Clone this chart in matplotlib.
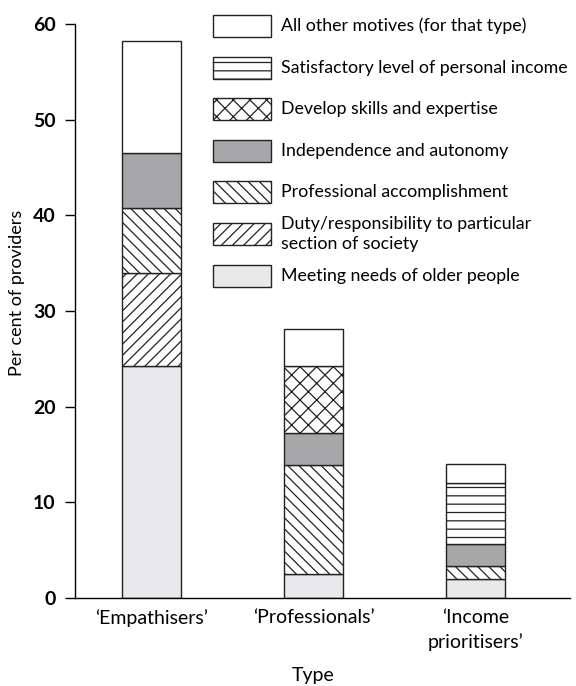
import matplotlib
matplotlib.use("Agg")
import matplotlib.pyplot as plt
from matplotlib.patches import Rectangle
import numpy as np

plt.rcParams['font.family'] = ['Lato', 'DejaVu Sans']
plt.rcParams['hatch.linewidth'] = 0.9

categories = ["\u2018Empathisers\u2019", "\u2018Professionals\u2019", "\u2018Income\nprioritisers\u2019"]

meeting_needs = [24.2, 2.5, 2.0]
duty = [9.8, 0.0, 0.0]
prof_accomp = [6.8, 11.4, 1.3]
independence = [5.7, 3.3, 2.3]
skills = [0.0, 7.0, 0.0]
income = [0.0, 0.0, 6.4]
other = [11.7, 3.9, 2.0]

series = [
    ("Meeting needs of older people", meeting_needs, "#e9e9eb", ""),
    ("Duty/responsibility to particular\nsection of society", duty, "white", "///"),
    ("Professional accomplishment", prof_accomp, "white", "\\\\\\"),
    ("Independence and autonomy", independence, "#a7a7a9", ""),
    ("Develop skills and expertise", skills, "white", "xx"),
    ("Satisfactory level of personal income", income, "white", "--"),
    ("All other motives (for that type)", other, "white", ""),
]

fig = plt.figure(figsize=(5.76, 6.86), dpi=100)
ax = fig.add_axes([75/576, 1-598/686, (570-75)/576, (598-24)/686])

x = np.arange(len(categories))
bottom = np.zeros(len(categories))
for label, vals, fc, hatch in series:
    vals = np.array(vals)
    mask = vals > 0
    ax.bar(x[mask], vals[mask], bottom=bottom[mask], width=0.364,
           color=fc, edgecolor="#222222", hatch=hatch, linewidth=1.0)
    bottom += vals

ax.set_xlim(-0.472, 2.583)
ax.set_ylim(0, 60)
ax.set_yticks([0, 10, 20, 30, 40, 50, 60])
ax.set_yticklabels([str(v) for v in [0, 10, 20, 30, 40, 50, 60]], fontsize=14, fontweight='bold')
ax.set_xticks(x)
ax.set_xticklabels(categories, fontsize=14, linespacing=1.45)
ax.tick_params(axis='x', length=0, pad=8)
ax.tick_params(axis='y', length=7, width=1, pad=7)
for s in ['top', 'right']:
    ax.spines[s].set_visible(False)
ax.spines['left'].set_linewidth(1.0)
ax.spines['bottom'].set_linewidth(1.0)
ax.set_xlabel("Type", fontsize=14)
ax.xaxis.set_label_coords((313-75)/495, (598-667)/574)
ax.set_ylabel("Per cent of providers", fontsize=13)
ax.yaxis.set_label_coords((25-75)/495, (598-293)/574)

# legend drawn manually (top to bottom)
leg_items = list(reversed(series))
centers = [26, 68, 109, 151, 192, 234, 275.5]
for (label, vals, fc, hatch), cy in zip(leg_items, centers):
    r = Rectangle((213/576, 1-(cy+11)/686), 58/576, 22/686, transform=fig.transFigure,
                  facecolor=fc, edgecolor="#222222", hatch=hatch, linewidth=1.0)
    fig.patches.append(r)
    fig.text(281/576, 1-cy/686, label, fontsize=12.8, va='center', ha='left', linespacing=1.3)

fig.savefig("out.png", dpi=100)
